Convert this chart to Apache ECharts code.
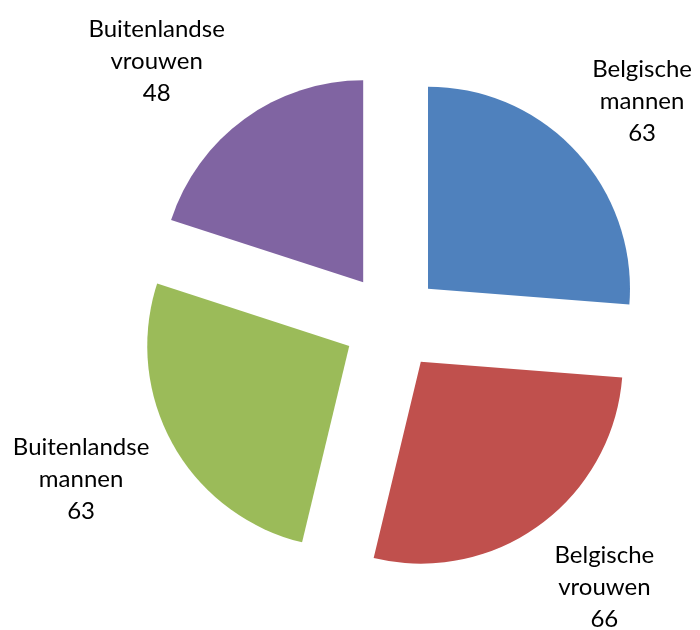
<!DOCTYPE html>
<html>
<head>
<meta charset="utf-8">
<script src="https://cdn.jsdelivr.net/npm/echarts@6/dist/echarts.min.js"></script>
<style>
  html, body { margin: 0; padding: 0; background: #fff; }
  #chart { width: 700px; height: 630px; }
</style>
</head>
<body>
<div id="chart"></div>
<script>
// Population groups and their counts
const categories = ['Belgische mannen', 'Belgische vrouwen', 'Buitenlandse mannen', 'Buitenlandse vrouwen'];
const values = [63, 66, 63, 48];
const colors = ['#4F81BD', '#C0504D', '#9BBB59', '#8064A2'];

const center = [392, 322];
const fontFamily = 'Lato, "Open Sans", sans-serif';
// Small per-label nudges away from the slice bisector [dx, dy]
const labelNudge = [[-4, 14], [9, -15], [-9, -12], [-32, 19]];

const chart = echarts.init(document.getElementById('chart'), null, { renderer: 'canvas' });

// Exploded slices
const sliceData = categories.map((name, i) => ({
  name: name,
  value: values[i],
  selected: true,
  itemStyle: { color: colors[i] }
}));

// Transparent outer ring that only carries the category labels
const labelData = categories.map((name, i) => ({
  name: name,
  value: values[i],
  itemStyle: { color: 'rgba(0,0,0,0)' }
}));

chart.setOption({
  animation: false,
  backgroundColor: '#ffffff',
  series: [
    {
      type: 'pie',
      center: center,
      radius: [0, 202],
      startAngle: 90,
      clockwise: true,
      selectedMode: 'multiple',
      selectedOffset: 49,
      silent: true,
      label: { show: false },
      labelLine: { show: false },
      emphasis: { disabled: true },
      select: { itemStyle: { borderWidth: 0 } },
      data: sliceData
    },
    {
      type: 'pie',
      center: center,
      radius: [326, 360],
      startAngle: 90,
      clockwise: true,
      silent: true,
      z: 3,
      label: {
        show: true,
        position: 'inside',
        rotate: 0,
        formatter: p => p.name.replace(' ', '\n') + '\n' + p.value,
        color: '#000000',
        fontSize: 24,
        lineHeight: 32,
        fontFamily: fontFamily,
        align: 'center'
      },
      labelLayout: p => ({ dx: labelNudge[p.dataIndex][0], dy: labelNudge[p.dataIndex][1] }),
      labelLine: { show: false },
      emphasis: { disabled: true },
      data: labelData
    }
  ]
});
</script>
</body>
</html>
